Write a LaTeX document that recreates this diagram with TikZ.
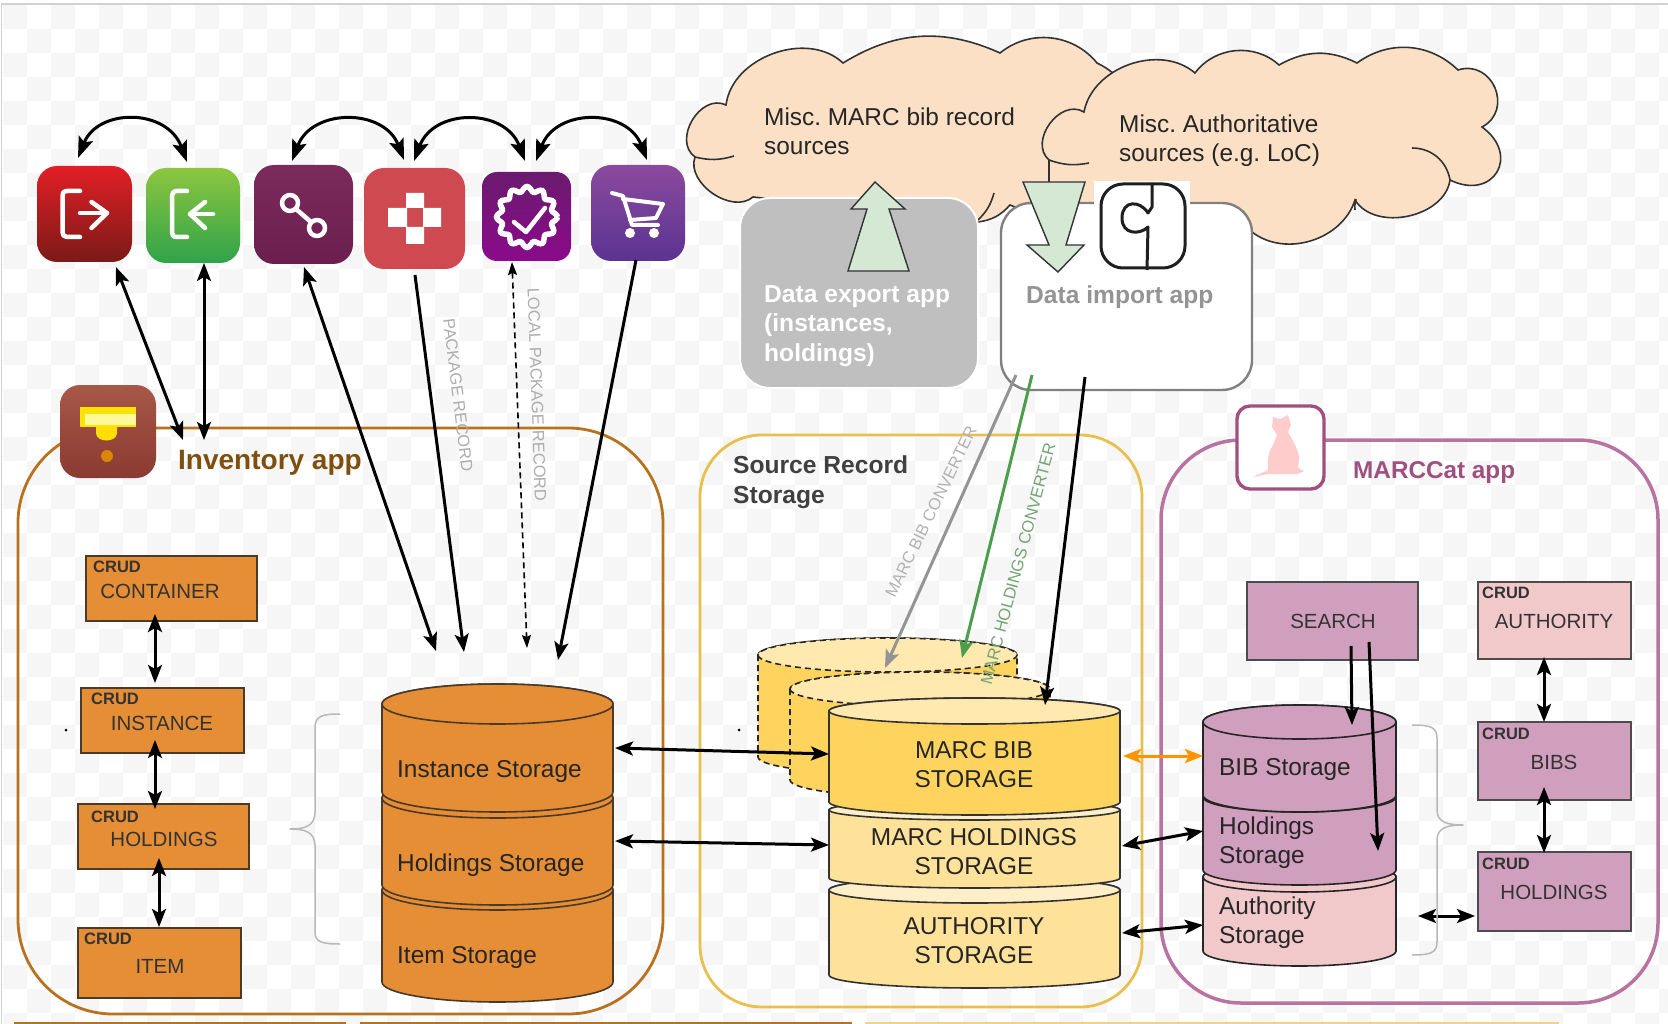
\documentclass[tikz,border=0pt]{standalone}
\usepackage{fontspec}
\setmainfont{Liberation Sans}
\usetikzlibrary{arrows.meta,calc}
\frenchspacing
\definecolor{chk}{HTML}{F6F6F6}
\definecolor{invline}{HTML}{B8711F}
\definecolor{invfill}{HTML}{E58E35}
\definecolor{invtxt}{HTML}{7F4F10}
\definecolor{srsline}{HTML}{E8C050}
\definecolor{mcline}{HTML}{B873A0}
\definecolor{mcfill}{HTML}{D09FBE}
\definecolor{mcpale}{HTML}{F2C9CA}
\definecolor{mctxt}{HTML}{A0507F}
\definecolor{peach}{HTML}{FBE0C6}
\definecolor{pale}{HTML}{D4E8D4}
\definecolor{capA}{HTML}{FFE9AE}
\definecolor{capB}{HTML}{FFEFC8}
\definecolor{sideA}{HTML}{FFD45E}
\definecolor{sideB}{HTML}{FFE29A}
\definecolor{boxline}{HTML}{4A3A2A}
\tikzset{
  lab/.style={font=\fontsize{24.4}{29}\selectfont,inner sep=0,anchor=west,align=left,text=#1},
  lab/.default=black!85,
  boldlab/.style 2 args={font=\fontsize{#1}{29.5}\selectfont\bfseries,inner sep=0,anchor=west,align=left,text=#2},
  mid/.style={font=\fontsize{24.4}{29}\selectfont,inner sep=0,align=center,text=black!85},
  rec/.style={draw=boxline,line width=1.5pt,fill=#1,inner sep=0},
  crud/.style={font=\fontsize{16.5}{18}\selectfont\bfseries,inner sep=0,anchor=west,text=#1},
  crud/.default=black!80,
  boxtxt/.style={font=\fontsize{20.5}{24}\selectfont,inner sep=0,text=black!80},
  vert/.style={font=\fontsize{#1}{18}\selectfont,inner sep=0},
  ico/.style={rounded corners=20pt,inner sep=0},
  glyph/.style={draw=white,line width=4.5pt,line cap=round,line join=round},
  bi/.style={line width=3pt,{Stealth[length=18pt,width=14pt,inset=4pt]}-{Stealth[length=18pt,width=14pt,inset=4pt]}},
  one/.style={line width=3pt,-{Stealth[length=18pt,width=14pt,inset=4pt]}},
  curv/.style={line width=3pt,{Stealth[length=21pt,width=15pt,inset=4pt]}-{Stealth[length=21pt,width=15pt,inset=4pt]}},
  dashb/.style={line width=1.6pt,dash pattern=on 6pt off 4pt,{Stealth[length=13pt,width=9pt,inset=2pt]}-{Stealth[length=13pt,width=9pt,inset=2pt]}},
  cloud line/.style={draw=black!80,line width=1.6pt},
  brc/.style={draw=black!28,line width=1.5pt,line join=round},
  block/.style={draw=black!80,line width=1.4pt,fill=pale,line join=miter},
}
% x1 x2 ytop ybot ry side cap style
\newcommand{\cylseg}[8]{%
  \pgfmathsetmacro{\crx}{(#2-#1)/2}%
  \draw[line width=1.6pt,#8,fill=#6] (#1,#3) -- (#1,#4) arc[start angle=180,end angle=360,x radius=\crx pt,y radius=#5pt] -- (#2,#3) arc[start angle=0,end angle=180,x radius=\crx pt,y radius=#5pt] -- cycle;
  \draw[line width=1.6pt,#8,fill=#7] (#1,#3) arc[start angle=180,end angle=360,x radius=\crx pt,y radius=#5pt] arc[start angle=0,end angle=180,x radius=\crx pt,y radius=#5pt] -- cycle;
}
\begin{document}
\begin{tikzpicture}[x=1pt,y=-1pt]
\useasboundingbox (0,0) rectangle (1668,1024);
\fill[white] (0,0) rectangle (1668,1024);
\begin{scope}
\clip (0,0) rectangle (1668,1024);
\foreach \xa in {3,51,...,1668} \foreach \ya in {5,53,...,1024} \fill[chk] (\xa,\ya) rectangle ++(24,24);
\foreach \xa in {27,75,...,1668} \foreach \ya in {29,77,...,1024} \fill[chk] (\xa,\ya) rectangle ++(24,24);
\end{scope}
\draw[black!18,line width=1.5pt] (1.5,1024) -- (1.5,4) -- (1668,4);
% bottom strips
\fill[invline] (14,1021.5) rectangle (346,1024);
\fill[invline] (360,1021.5) rectangle (852,1024);
\fill[srsline!70] (865,1021.5) rectangle (1559,1024);
% containers
\draw[invline,line width=2.8pt,rounded corners=95pt] (18,428) rectangle (663,1014);
\draw[srsline,line width=2.8pt,rounded corners=62pt] (700,435) rectangle (1142,1007);
\draw[mcline,line width=3.5pt,rounded corners=80pt] (1161,440) rectangle (1658,1003);
% clouds
\path[cloud line,fill=peach] (753,197) to[bend left=75] (695,157) to[bend left=85,looseness=1.2] (726,105) to[bend left=63] (843,63) to[bend left=28] (1000,53) to[bend left=45] (1097,63) to[bend left=50] (1130,190) to[bend left=30] (1010,205) to[bend left=20] (978,222) -- cycle;
\draw[cloud line] (695,157) to[bend right=15] (734,156);
\draw[cloud line] (994,193) to[bend left=15] (978,220);
\path[cloud line,fill=peach] (1049,215) -- (1049,160) to[bend left=85,looseness=1.2] (1084,112) to[bend left=60] (1195,73) to[bend left=48] (1279,65) to[bend left=28] (1357,63) to[bend left=40] (1458,70) to[bend left=85,looseness=1.5] (1482,127) to[bend left=85,looseness=2] (1450,180) to[bend left=70] (1355,200) to[bend left=55] (1252,232) -- cycle;
\draw[cloud line] (1049,160) to[bend right=15] (1089,163);
\draw[cloud line] (1450,180) to[bend right=40] (1412,148);
\draw[cloud line] (1355,210) to[bend left=10] (1356,199);
\node[lab] (cl1) at (764,131) {Misc. MARC bib record\\sources};
\node[lab] (cl2) at (1119,141) {Misc. Authoritative\\sources (e.g. LoC)};
% app boxes
\node[draw=white,line width=2pt,fill=black!25,rounded corners=30pt,minimum width=238pt,minimum height=190pt,inner sep=0] (expbox) at (859,293) {};
\node[draw=black!50,line width=2.4pt,fill=white,rounded corners=30pt,minimum width=251pt,minimum height=187pt,inner sep=0] (impbox) at (1126.5,296.5) {};
\node[boldlab={24.6}{white}] (exptxt) at (764,326) {Data export app\\(instances,\\holdings)};
\node[boldlab={24.6}{black!42}] (imptxt) at (1026,297) {Data import app};
% block arrows
\draw[block] (875,182) -- (905,209) -- (889,209) -- (909,271) -- (848,271) -- (867,209) -- (851,209) -- cycle;
\fill[white] (1094,181) rectangle (1190,215);
\draw[block] (1023,182) -- (1085,182) -- (1066,245) -- (1084,245) -- (1058,272) -- (1027,245) -- (1049,245) -- cycle;
% puzzle icon
\draw[black!88,line width=3pt,rounded corners=22pt] (1101,184) rectangle (1185,268);
\draw[black!88,line width=3pt,line join=round] (1152,183) -- (1152,207) -- (1148,213) .. controls (1140,200) and (1122,200) .. (1122,218) .. controls (1122,235) and (1140,235) .. (1148,227) -- (1147,270);
% icons
\definecolor{c1}{HTML}{E21F26}\definecolor{c2}{HTML}{7A1A16}
\definecolor{c3}{HTML}{8DC63F}\definecolor{c4}{HTML}{2FA34A}
\definecolor{c5}{HTML}{7B2A5C}\definecolor{c6}{HTML}{6B1F4F}
\definecolor{c7}{HTML}{CE4A50}
\definecolor{c8}{HTML}{6A1B6E}\definecolor{c9}{HTML}{8B0A8B}
\definecolor{c10}{HTML}{8A4A9E}\definecolor{c11}{HTML}{5B3390}
\definecolor{c12}{HTML}{A85848}\definecolor{c13}{HTML}{8A3A30}
\node[ico,top color=c1,bottom color=c2,minimum width=95pt,minimum height=96pt] (ired) at (84.5,214) {};
\node[ico,top color=c3,bottom color=c4,minimum width=94pt,minimum height=95pt] (igreen) at (193,215.5) {};
\node[ico,top color=c5,bottom color=c6,minimum width=99pt,minimum height=99pt] (iplum) at (303.5,214.5) {};
\node[ico,fill=c7,minimum width=101pt,minimum height=101pt] (iflower) at (414.5,218.5) {};
\node[ico,rounded corners=15pt,top color=c8,bottom color=c9,minimum width=89pt,minimum height=89pt] (ibadge) at (526.5,216.5) {};
\node[ico,top color=c10,bottom color=c11,minimum width=94pt,minimum height=96pt] (icart) at (638,213) {};
\node[ico,top color=c12,bottom color=c13,minimum width=96pt,minimum height=93pt] (iinv) at (108,431.5) {};
% glyphs
\draw[glyph] (80,191) -- (67,191) .. controls (63,191) and (62.5,194) .. (62.5,196) -- (62.5,232) .. controls (62.5,235) and (64,237) .. (67,237) -- (80,237);
\draw[glyph] (80,213) -- (107,213);
\draw[glyph] (91.5,202) -- (107,213) -- (91.5,228);
\draw[glyph] (187,191) -- (177,191) .. controls (173,191) and (172,194) .. (172,196) -- (172,232) .. controls (172,235) and (173,237) .. (177,237) -- (187,237);
\draw[glyph] (213,214) -- (190,214);
\draw[glyph] (205,202) -- (190,214) -- (205,228);
\draw[glyph] (290,203) circle (8pt) (317,228) circle (8pt) (296,209) -- (311,222);
\fill[white] (406,193) rectangle (424,208) (388,208) rectangle (407,227) (423,208) rectangle (441,227) (406,227) rectangle (424,244);
\draw[white,line width=5.5pt] plot[domain=0:360,samples=121] ({527+(28+2.5*cos(12*\x))*cos(\x)},{217+(28+2.5*cos(12*\x))*sin(\x)});
\draw[glyph] (514,222) -- (526,232) -- (545,208);
\draw[glyph,line width=4pt] (612,193) -- (623,196) -- (632,225) -- (658,225) (623,199) -- (663,204) -- (656,218) -- (630,220);
\fill[white] (630,233) circle (5pt) (654,233) circle (5pt);
\fill[yellow!85!orange] (80,407) rectangle (136,427);
\fill[white!60!yellow] (85,414) rectangle (136,425);
\fill[yellow!80!orange] (96,427) -- (117,427) -- (117,433) .. controls (117,443) and (96,443) .. (96,433) -- cycle;
\fill[orange!75!yellow!85!black] (107,456) circle (6pt);
% inventory labels & boxes
\node[boldlab={28}{invtxt}] (invtitle) at (178,463) {Inventory app};
\node[rec=invfill,minimum width=171pt,minimum height=65pt] (bcont) at (171.5,588.5) {};
\node[rec=invfill,minimum width=163pt,minimum height=65pt] (binst) at (162.5,720.5) {};
\node[rec=invfill,minimum width=171pt,minimum height=65pt] (bhold) at (163.5,836.5) {};
\node[rec=invfill,minimum width=163pt,minimum height=70pt] (bitem) at (159.5,963) {};
\node[crud] at (93,567) {CRUD};
\node[crud] at (91,699) {CRUD};
\node[crud] at (91,817) {CRUD};
\node[crud] at (84,939) {CRUD};
\node[boxtxt] at (160,591) {CONTAINER};
\node[boxtxt] at (162,723) {INSTANCE};
\node[boxtxt] at (164,839) {HOLDINGS};
\node[boxtxt] at (160,966) {ITEM};
\coordinate (ca1) at (155,614); \coordinate (ca2) at (155,683);
\coordinate (cb1) at (155,740); \coordinate (cb2) at (155,809);
\coordinate (cc1) at (159,858); \coordinate (cc2) at (159,927);
\draw[bi] (ca1) -- (ca2);
\draw[bi] (cb1) -- (cb2);
\draw[bi] (cc1) -- (cc2);
\draw[brc] (340,714) .. controls (322,714) and (315,716) .. (315,728) -- (315,812) .. controls (315,826) and (305,829) .. (290,829) .. controls (305,829) and (315,832) .. (315,846) -- (315,932) .. controls (315,942) and (322,944) .. (340,944);
% inventory cylinder
\cylseg{382}{613}{890}{982}{20}{invfill}{invfill}{draw=boxline}
\cylseg{382}{613}{798}{885}{20}{invfill}{invfill}{draw=boxline}
\cylseg{382}{613}{704}{792}{20}{invfill}{invfill}{draw=boxline}
\node[lab] (t1) at (397,772) {Instance Storage};
\node[lab] (t2) at (397,865) {Holdings Storage};
\node[lab] (t3) at (397,958) {Item Storage};
% SRS
\node[boldlab={24.6}{black!75}] (srst) at (733,482) {Source Record\\Storage};
\cylseg{758}{1017}{655}{757}{17}{sideA}{capA}{draw=black!85,dash pattern=on 6pt off 4pt}
\cylseg{790}{1050}{689}{780}{17}{sideA}{capA}{draw=black!85,dash pattern=on 6pt off 4pt}
\cylseg{829}{1120}{890}{975}{13}{sideB}{capB}{draw=black!80}
\cylseg{829}{1120}{810}{878}{10}{sideB}{capB}{draw=black!80}
\cylseg{829}{1120}{711}{802}{13}{sideA}{capA}{draw=black!80}
\node[mid] (s1) at (974,764.5) {MARC BIB\\STORAGE};
\node[mid] (s2) at (974,851.5) {MARC HOLDINGS\\STORAGE};
\node[mid] (s3) at (974,941) {AUTHORITY\\STORAGE};
% MARCCat
\node[draw=mctxt,line width=3.4pt,fill=white,rounded corners=13pt,minimum width=87pt,minimum height=83pt,inner sep=0] (icat) at (1280.5,447.5) {};
\fill[red!20!white] (1273,417) -- (1280,419) -- (1288,415) -- (1291,425) -- (1288,432) .. controls (1294,442) and (1299,452) .. (1299,458) -- (1298,468) -- (1304,471) -- (1298,474) -- (1268,474) -- (1253,477) .. controls (1260,473) and (1265,472) .. (1268,470) .. controls (1267,455) and (1270,450) .. (1273,445) -- (1277,435) -- (1272,427) -- cycle;
\node[boldlab={24.3}{mctxt}] (mct) at (1353,473) {MARCCat app};
\node[rec=mcfill,draw=black!70,minimum width=171pt,minimum height=78pt] (bsearch) at (1332.5,621) {};
\node[boxtxt] at (1333,621) {SEARCH};
\node[rec=mcpale,draw=black!70,minimum width=153pt,minimum height=77pt] (bauth) at (1554.5,620.5) {};
\node[rec=mcfill,draw=black!70,minimum width=153pt,minimum height=78pt] (bbibs) at (1554.5,761) {};
\node[rec=mcfill,draw=black!70,minimum width=153pt,minimum height=79pt] (bmhold) at (1554.5,891.5) {};
\node[crud] at (1482,593) {CRUD};
\node[crud] at (1482,734) {CRUD};
\node[crud] at (1482,864) {CRUD};
\node[boxtxt] at (1554,621) {AUTHORITY};
\node[boxtxt] at (1554,762) {BIBS};
\node[boxtxt] at (1554,892) {HOLDINGS};
\coordinate (ma1) at (1544,657); \coordinate (ma2) at (1544,722);
\coordinate (mb1) at (1544,787); \coordinate (mb2) at (1544,853);
\coordinate (mc1) at (1418,916); \coordinate (mc2) at (1475,916);
\draw[bi] (ma1) -- (ma2);
\draw[bi] (mb1) -- (mb2);
\draw[bi] (mc1) -- (mc2);
\cylseg{1203}{1396}{877}{951}{15}{mcpale}{mcpale}{draw=black!85}
\cylseg{1203}{1396}{797}{870}{15}{mcfill}{mcfill}{draw=black!85}
\cylseg{1203}{1396}{722}{795}{17}{mcfill}{mcfill}{draw=black!85}
\node[lab] (m1) at (1219,770) {BIB Storage};
\node[lab] (m2) at (1219,842.5) {Holdings\\Storage};
\node[lab] (m3) at (1219,922.5) {Authority\\Storage};
\draw[brc] (1412,725) .. controls (1430,725) and (1437,727) .. (1437,738) -- (1437,810) .. controls (1437,822) and (1447,825) .. (1463,825) .. controls (1447,825) and (1437,828) .. (1437,840) -- (1437,942) .. controls (1437,953) and (1430,955) .. (1412,955);
% search arrows
\coordinate (sa1) at (1351,646); \coordinate (sa2) at (1352,725);
\coordinate (sb1) at (1369,642); \coordinate (sb2) at (1378,851);
\draw[one] (sa1) -- (sa2);
\draw[one] (sb1) -- (sb2);
% inter-store arrows
\coordinate (x1a) at (615,748); \coordinate (x1b) at (829,754);
\coordinate (x2a) at (615,841); \coordinate (x2b) at (829,845);
\coordinate (x3a) at (1123,756); \coordinate (x3b) at (1203,756);
\coordinate (x4a) at (1122,846); \coordinate (x4b) at (1203,831);
\coordinate (x5a) at (1122,933); \coordinate (x5b) at (1203,925);
\draw[bi] (x1a) -- (x1b);
\draw[bi] (x2a) -- (x2b);
\draw[bi,orange!85!yellow] (x3a) -- (x3b);
\draw[bi] (x4a) -- (x4b);
\draw[bi] (x5a) -- (x5b);
% app-to-storage arrows
\coordinate (p1a) at (116,267); \coordinate (p1b) at (183,440);
\coordinate (p2a) at (204,263); \coordinate (p2b) at (204,440);
\coordinate (p3a) at (304,267); \coordinate (p3b) at (436,651);
\coordinate (p4a) at (415,275); \coordinate (p4b) at (464,652);
\coordinate (p5a) at (512,262); \coordinate (p5b) at (527,648);
\coordinate (p6a) at (636,260); \coordinate (p6b) at (558,660);
\draw[bi] (p1a) -- (p1b);
\draw[bi] (p2a) -- (p2b);
\draw[bi] (p3a) -- (p3b);
\draw[one] (p4a) -- (p4b);
\draw[dashb] (p5a) -- (p5b);
\draw[one] (p6a) -- (p6b);
\node[vert=16.4,rotate=-83,text=black!32] (pk) at (458,395) {PACKAGE RECORD};
\node[vert=16.5,rotate=-88,text=black!32] (lpk) at (537,395) {LOCAL PACKAGE RECORD};
% curved arrows
\coordinate (u1a) at (78,158); \coordinate (u1b) at (187,162);
\coordinate (u2a) at (292,161); \coordinate (u2b) at (404,160);
\coordinate (u3a) at (414,161); \coordinate (u3b) at (525,161);
\coordinate (u4a) at (536,161); \coordinate (u4b) at (647,160);
\draw[curv] (u1a) .. controls (98,108) and (167,108) .. (u1b);
\draw[curv] (u2a) .. controls (312,108) and (384,108) .. (u2b);
\draw[curv] (u3a) .. controls (434,108) and (505,108) .. (u3b);
\draw[curv] (u4a) .. controls (556,108) and (627,108) .. (u4b);
% import arrows
\coordinate (ig1) at (1016,375); \coordinate (ig2) at (885,668);
\coordinate (ih1) at (1032,375); \coordinate (ih2) at (962,658);
\coordinate (ib1) at (1085,377); \coordinate (ib2) at (1045,705);
\draw[one,black!42] (ig1) -- (ig2);
\draw[one,green!45!black!70!white] (ih1) -- (ih2);
\draw[one] (ib1) -- (ib2);
\node[vert=16.5,rotate=64,text=black!30] (cv1) at (931,512) {MARC BIB CONVERTER};
\node[vert=16.6,rotate=75,text=green!35!black!55!white] (cv2) at (1018,564) {MARC HOLDINGS CONVERTER};
% specks
\fill[black] (66,730) circle (1.5pt) (739,730) circle (1.5pt);
\end{tikzpicture}
\end{document}
